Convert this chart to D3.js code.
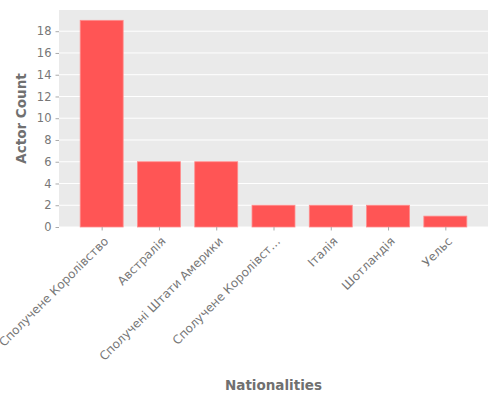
<!DOCTYPE html>
<html>
<head>
<meta charset="utf-8">
<script src="https://cdn.jsdelivr.net/npm/d3@7"></script>
<style>
  body { margin: 0; background: #fff; }
  text { font-family: "DejaVu Sans", sans-serif; }
</style>
</head>
<body>
<div id="chart"></div>
<script>
// data
var nationalities = ["Сполучене Королівство", "Австралія", "Сполучені Штати Америки",
                     "Сполучене Королівст…", "Італія", "Шотландія", "Уельс"];
var actorCounts = [19, 6, 6, 2, 2, 2, 1];
var yTicks = [0, 2, 4, 6, 8, 10, 12, 14, 16, 18];

var W = 500, H = 400;
var mLeft = 59, mRight = 488, mTop = 10, mBottom = 227;

var svg = d3.select("#chart").append("svg")
    .attr("width", W)
    .attr("height", H);

var x = d3.scaleLinear().domain([-0.745, 6.745]).range([mLeft, mRight]);
var y = d3.scaleLinear().domain([0, 19.95]).range([mBottom, mTop]);
var barW = 0.75;

// background panel
svg.append("rect")
    .attr("x", mLeft).attr("y", mTop)
    .attr("width", mRight - mLeft).attr("height", mBottom - mTop)
    .attr("fill", "#EAEAEA");

// grid lines
svg.selectAll(".grid").data(yTicks).enter().append("line")
    .attr("x1", mLeft).attr("x2", mRight)
    .attr("y1", function(d) { return y(d); })
    .attr("y2", function(d) { return y(d); })
    .attr("stroke", "#fff")
    .attr("stroke-width", 1);

// bars
svg.selectAll(".bar").data(actorCounts).enter().append("rect")
    .attr("x", function(d, i) { return x(i - barW / 2); })
    .attr("width", x(barW) - x(0))
    .attr("y", function(d) { return y(d); })
    .attr("height", function(d) { return y(0) - y(d); })
    .attr("fill", "#FF5555")
    .attr("stroke", "#FF8C8C")
    .attr("stroke-width", 0.8);

// y axis
var yAxis = d3.axisLeft(y).tickValues(yTicks).tickSize(3.5).tickPadding(4);
var gy = svg.append("g").attr("transform", "translate(" + mLeft + ",0)").call(yAxis);
gy.select(".domain").remove();
gy.selectAll("line").attr("stroke", "#aaa");
gy.selectAll("text").attr("fill", "#777").style("font-size", "11.5px");

// x axis
var xAxis = d3.axisBottom(x).tickValues(d3.range(nationalities.length))
    .tickSize(3.5).tickFormat(function(i) { return nationalities[i]; });
var gx = svg.append("g").attr("transform", "translate(0," + mBottom + ")").call(xAxis);
gx.select(".domain").remove();
gx.selectAll("line").attr("stroke", "#aaa");
gx.selectAll("text")
    .attr("fill", "#777")
    .style("font-size", "12px")
    .attr("text-anchor", "end")
    .attr("dy", null)
    .attr("y", 0)
    .attr("transform", "translate(7,15) rotate(-45)");

// axis titles
svg.append("text")
    .attr("transform", "translate(26," + ((mTop + mBottom) / 2) + ") rotate(-90)")
    .attr("text-anchor", "middle")
    .attr("fill", "#707070")
    .style("font-size", "13.5px")
    .style("font-weight", "bold")
    .text("Actor Count");

svg.append("text")
    .attr("x", (mLeft + mRight) / 2)
    .attr("y", 390)
    .attr("text-anchor", "middle")
    .attr("fill", "#707070")
    .style("font-size", "13.5px")
    .style("font-weight", "bold")
    .text("Nationalities");
</script>
</body>
</html>
